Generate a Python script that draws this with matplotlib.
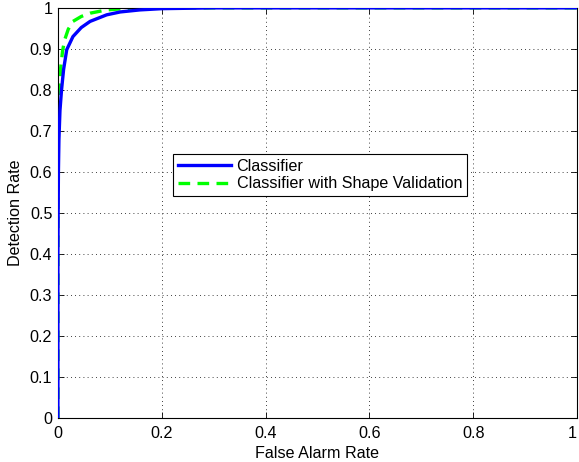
import numpy as np
import matplotlib
matplotlib.use('Agg')
import matplotlib.pyplot as plt

# ROC points (false alarm rate, detection rate)
clf_fpr = [0, 0, 0.001, 0.002, 0.004, 0.007, 0.011, 0.017, 0.029, 0.045,
           0.062, 0.094, 0.12, 0.158, 0.2, 0.3, 1.0]
clf_tpr = [0, 0.4, 0.6, 0.68, 0.75, 0.80, 0.85, 0.898, 0.93, 0.952,
           0.967, 0.983, 0.99, 0.995, 0.998, 1.0, 1.0]

shape_fpr = [0, 0, 0.001, 0.005, 0.009, 0.013, 0.02, 0.029, 0.045,
             0.062, 0.094, 0.15, 1.0]
shape_tpr = [0, 0.6, 0.736, 0.85, 0.895, 0.922, 0.948, 0.967, 0.979,
             0.987, 0.995, 1.0, 1.0]

labels = ['Classifier', 'Classifier with Shape Validation']
ticks = [0, 0.1, 0.2, 0.3, 0.4, 0.5, 0.6, 0.7, 0.8, 0.9, 1]
xticks = [0, 0.2, 0.4, 0.6, 0.8, 1]

plt.rcParams['font.family'] = ['Liberation Sans', 'DejaVu Sans']
fs = 11.6

fig = plt.figure(figsize=(5.79, 4.62), dpi=100)
ax = fig.add_axes([0.100, 0.095, 0.8966, 0.888])

ax.plot(clf_fpr, clf_tpr, color=(0, 0, 1), lw=2.4, label=labels[0],
        solid_joinstyle='round', zorder=3)
ax.plot(shape_fpr, shape_tpr, color=(0, 1, 0), lw=2.4, label=labels[1],
        dashes=(3.5, 2.2), zorder=2)

ax.set_xlim(0, 1)
ax.set_ylim(0, 1)
ax.set_xticks(xticks)
ax.set_xticklabels(['0', '0.2', '0.4', '0.6', '0.8', '1'])
ax.set_yticks(ticks)
ax.set_yticklabels(['0', '0.1', '0.2', '0.3', '0.4', '0.5', '0.6', '0.7',
                    '0.8', '0.9', '1'])
ax.tick_params(direction='in', top=True, right=True, length=4, width=0.6,
               labelsize=fs)
ax.tick_params(axis='x', pad=6)
ax.tick_params(axis='y', pad=4)
ax.get_xticklabels()[-1].set_horizontalalignment('right')
ax.grid(True, linestyle=(0, (1, 4)), color='black', lw=0.6)
for s in ax.spines.values():
    s.set_linewidth(0.8)

ax.set_xlabel('False Alarm Rate', fontsize=fs, labelpad=3)
ax.set_ylabel('Detection Rate', fontsize=fs, labelpad=5)

leg = ax.legend(loc='upper left', bbox_to_anchor=(0.2216, 0.644),
                borderaxespad=0, fancybox=False, edgecolor='black',
                framealpha=1, handlelength=3.3, handletextpad=0.35,
                labelspacing=0.15, borderpad=0.3, fontsize=fs)
leg.get_frame().set_linewidth(0.8)

fig.savefig('out.png', dpi=100)
